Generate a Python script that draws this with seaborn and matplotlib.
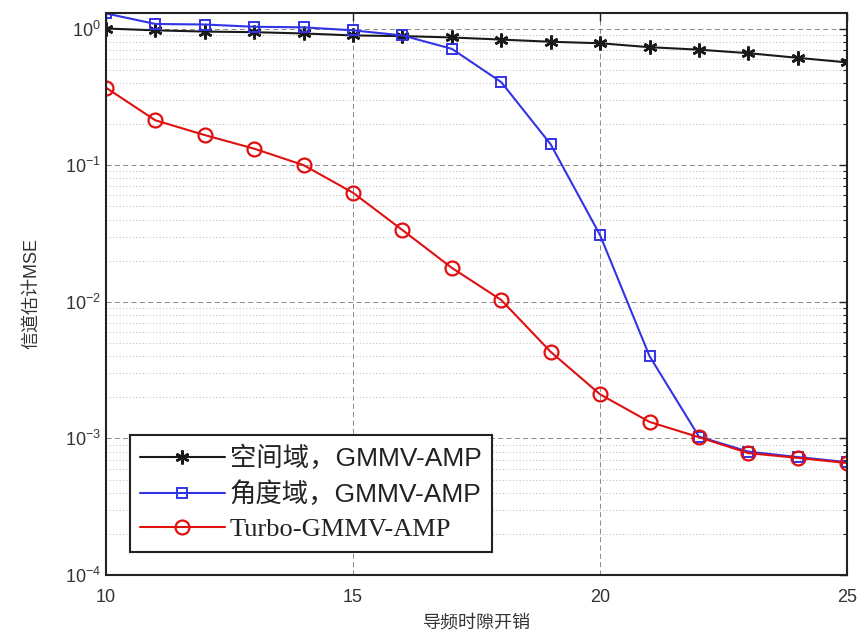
import numpy as np
import pandas as pd
import matplotlib
matplotlib.use("Agg")
import matplotlib.pyplot as plt
import seaborn as sns
from matplotlib.ticker import LogLocator, FixedLocator

sns.set_theme(style="white")
plt.rcParams['font.family'] = ['Liberation Sans', 'Noto Sans CJK SC', 'DejaVu Sans']
plt.rcParams['mathtext.fontset'] = 'custom'
plt.rcParams['mathtext.rm'] = 'Liberation Sans'
plt.rcParams['mathtext.it'] = 'Liberation Sans:italic'

x = list(range(10, 26))
spatial = [1.0, 0.97, 0.95, 0.94, 0.92, 0.89, 0.88, 0.86, 0.83, 0.80, 0.78, 0.73, 0.70, 0.66, 0.61, 0.565]
angular = [1.29, 1.08, 1.07, 1.03, 1.02, 0.97, 0.89, 0.71, 0.405, 0.142, 0.0307, 0.0040, 0.00103, 0.00080, 0.00073, 0.00067]
turbo = [0.369, 0.213, 0.166, 0.132, 0.100, 0.0628, 0.0335, 0.0177, 0.0103, 0.0043, 0.0021, 0.00132, 0.00102, 0.00078, 0.00072, 0.00066]
labels = ['空间域，GMMV-AMP', '角度域，GMMV-AMP', 'Turbo-GMMV-AMP']
xlabel = '导频时隙开销'
ylabel = '信道估计MSE'

fig = plt.figure(figsize=(8.61, 6.38), dpi=100)
ax = fig.add_axes([0.123, 0.0987, 0.861, 0.881])

styles = [
    dict(color='#1a1a1a', marker=(6, 2, 0), markersize=10, markerfacecolor='#1a1a1a', markeredgecolor='#1a1a1a', markeredgewidth=1.8),
    dict(color='#3333e6', marker='s', markersize=7, markerfacecolor='none', markeredgecolor='#3333e6', markeredgewidth=1.4),
    dict(color='#e01010', marker='o', markersize=10, markerfacecolor='none', markeredgecolor='#e01010', markeredgewidth=1.6),
]
for yv, lab, st in zip([spatial, angular, turbo], labels, styles):
    df = pd.DataFrame({'x': x, 'y': yv})
    sns.lineplot(data=df, x='x', y='y', ax=ax, label=lab, linewidth=1.5, **st)

ax.set_yscale('log')
ax.set_xlim(10, 25)
ax.set_ylim(1e-4, 1.3)
ax.set_xticks([10, 15, 20, 25])
ax.yaxis.set_major_locator(FixedLocator([1e-4, 1e-3, 1e-2, 1e-1, 1e0]))
ax.yaxis.set_minor_locator(LogLocator(base=10, subs=np.arange(2, 10), numticks=20))
ax.grid(True, which='major', axis='both', linestyle=(0, (6, 4)), color='#555555', linewidth=0.6, alpha=0.8)
ax.grid(True, which='minor', axis='y', linestyle=(0, (1, 3)), color='#777777', linewidth=0.6, alpha=0.7)
ax.tick_params(axis='both', which='both', direction='in', top=True, right=True, colors='#222222')
ax.tick_params(axis='both', which='major', length=6, labelsize=13, labelcolor='#333333', width=1)
ax.tick_params(axis='y', which='minor', length=3, width=0.8)
ax.tick_params(axis='x', which='major', pad=10)
for s in ax.spines.values():
    s.set_color('#222222')
    s.set_linewidth(1.5)
    s.set_visible(True)

ax.set_xlabel(xlabel, fontsize=13, color='#333333', labelpad=6)
ax.set_ylabel(ylabel, fontsize=13, color='#333333', labelpad=18)

leg = ax.legend(loc='lower left', bbox_to_anchor=(0.032, 0.041), fontsize=19, frameon=True,
                fancybox=False, edgecolor='#222222', handlelength=3.2, handletextpad=0.2,
                borderpad=0.4, labelspacing=0.4, borderaxespad=0)
leg.get_frame().set_linewidth(1.5)
leg.get_frame().set_alpha(1)
for t in leg.get_texts():
    t.set_color('#222222')
leg.get_texts()[2].set_family(['Liberation Serif', 'DejaVu Serif'])

fig.savefig('out.png', dpi=100, facecolor='white')
